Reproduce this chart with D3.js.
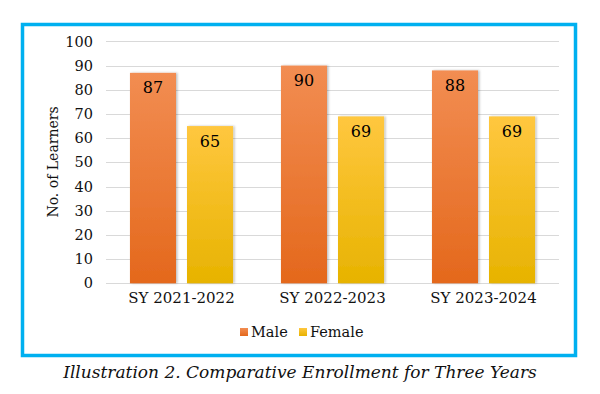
<!DOCTYPE html>
<html>
<head>
<meta charset="utf-8">
<script src="https://cdn.jsdelivr.net/npm/d3@7"></script>
<style>
  html, body { margin: 0; padding: 0; background: #fff; }
  svg { display: block; }
</style>
</head>
<body>
<svg id="chart" width="600" height="394"></svg>
<script>
const categories = ["SY 2021-2022", "SY 2022-2023", "SY 2023-2024"];
const seriesNames = ["Male", "Female"];
const maleValues = [87, 90, 88];
const femaleValues = [65, 69, 69];
const yTicks = [0, 10, 20, 30, 40, 50, 60, 70, 80, 90, 100];
const yTitle = "No. of Learners";
const caption = "Illustration 2. Comparative Enrollment for Three Years";

const seriesValues = { Male: maleValues, Female: femaleValues };
const rows = categories.map((c, i) => ({ cat: c, vals: seriesNames.map(s => ({ s, v: seriesValues[s][i] })) }));

const svg = d3.select("#chart");
const font = "'DejaVu Serif', serif";
const ink = "#111";

const defs = svg.append("defs");
const grads = { Male: ["#f28d52", "#e4681c"], Female: ["#ffc73f", "#e7b300"] };
Object.entries(grads).forEach(([k, [a, b]]) => {
  const g = defs.append("linearGradient").attr("id", "g" + k).attr("x1", 0).attr("y1", 0).attr("x2", 0).attr("y2", 1);
  g.append("stop").attr("offset", "0%").attr("stop-color", a);
  g.append("stop").attr("offset", "100%").attr("stop-color", b);
});
const f = defs.append("filter").attr("id", "sh").attr("x", "-10%").attr("y", "-10%").attr("width", "130%").attr("height", "120%");
f.append("feDropShadow").attr("dx", 1.5).attr("dy", 0).attr("stdDeviation", 1.2).attr("flood-color", "#000").attr("flood-opacity", 0.25);

// border
svg.append("rect").attr("x", 22.5).attr("y", 24.5).attr("width", 553).attr("height", 331)
  .attr("fill", "none").attr("stroke", "#00b0f0").attr("stroke-width", 3.5);

const x0 = d3.scaleBand().domain(categories).range([106, 559]).padding(0);
const x1 = d3.scaleBand().domain(seriesNames).range([0, x0.bandwidth()]).paddingInner(0.193).paddingOuter(0.42);
const y = d3.scaleLinear().domain([0, 100]).range([283.3, 41.4]);

// grid
svg.append("g").selectAll("line").data(yTicks).join("line")
  .attr("x1", 106).attr("x2", 559)
  .attr("y1", d => Math.round(y(d)) + 0.5).attr("y2", d => Math.round(y(d)) + 0.5)
  .attr("stroke", "#d9d9d9").attr("stroke-width", 1);

// y axis labels
const yAxis = d3.axisLeft(y).tickValues(yTicks).tickSize(0).tickPadding(0);
const ya = svg.append("g").attr("transform", "translate(93,0)").call(yAxis);
ya.select(".domain").remove();
ya.selectAll("text").attr("font-family", font).attr("font-size", 14.5).attr("fill", ink);

// y title
svg.append("text").attr("transform", "translate(53,162) rotate(-90)")
  .attr("text-anchor", "middle").attr("dominant-baseline", "central")
  .attr("font-family", font).attr("font-size", 14).attr("fill", ink).text(yTitle);

// bars
const groups = svg.append("g").selectAll("g").data(rows).join("g")
  .attr("transform", d => `translate(${x0(d.cat)},0)`);
groups.selectAll("rect").data(d => d.vals).join("rect")
  .attr("x", d => x1(d.s)).attr("width", x1.bandwidth())
  .attr("y", d => y(d.v)).attr("height", d => y(0) - y(d.v))
  .attr("fill", d => `url(#g${d.s})`).attr("filter", "url(#sh)");
groups.selectAll("text").data(d => d.vals).join("text")
  .attr("x", d => x1(d.s) + x1.bandwidth() / 2).attr("y", d => y(d.v) + 15)
  .attr("text-anchor", "middle").attr("dominant-baseline", "central")
  .attr("font-family", font).attr("font-size", 16).attr("fill", "#000").text(d => d.v);

// x axis labels
const xAxis = d3.axisBottom(x0).tickSize(0).tickPadding(0);
const xa = svg.append("g").attr("transform", "translate(0,292)").call(xAxis);
xa.select(".domain").remove();
xa.selectAll("text").attr("font-family", font).attr("font-size", 15).attr("fill", ink);

// legend
const legendItems = [{ s: "Male", x: 240 }, { s: "Female", x: 299 }];
const lg = svg.append("g").selectAll("g").data(legendItems).join("g")
  .attr("transform", d => `translate(${d.x},332)`);
lg.append("rect").attr("x", 0).attr("y", -4).attr("width", 8).attr("height", 8)
  .attr("fill", d => `url(#g${d.s})`);
lg.append("text").attr("x", 11).attr("y", 0).attr("dominant-baseline", "central")
  .attr("font-family", font).attr("font-size", 14.5).attr("fill", ink).text(d => d.s);

// caption
svg.append("text").attr("x", 300).attr("y", 372).attr("text-anchor", "middle").attr("dominant-baseline", "central")
  .attr("font-family", font).attr("font-style", "italic").attr("font-size", 17).attr("fill", ink).text(caption);
</script>
</body>
</html>
